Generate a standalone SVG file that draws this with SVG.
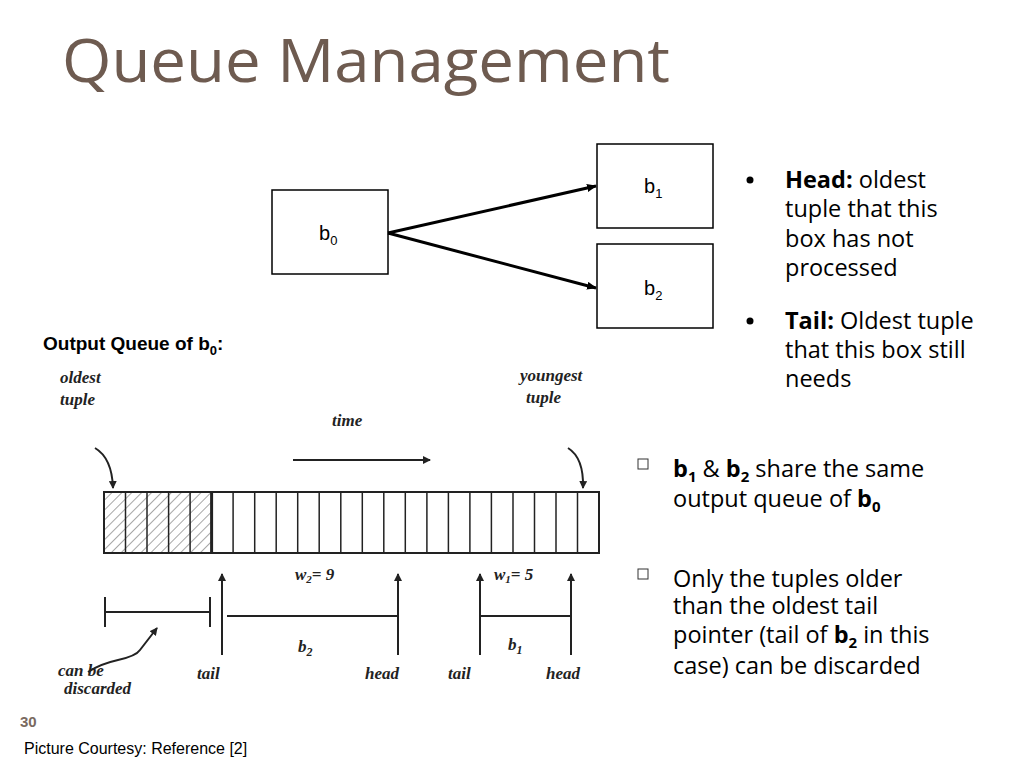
<svg xmlns="http://www.w3.org/2000/svg" width="1024" height="768" viewBox="0 0 1024 768">
<defs>
<marker id="ah" markerWidth="10" markerHeight="8" refX="9" refY="4" orient="auto" markerUnits="userSpaceOnUse"><path d="M0,0 L10,4 L0,8 Z" fill="#000"/></marker>
<marker id="sa" markerWidth="8" markerHeight="8" refX="7" refY="4" orient="auto" markerUnits="userSpaceOnUse"><path d="M0,0 L8,4 L0,8 Z" fill="#222"/></marker>
<pattern id="hatch" width="7" height="7" patternUnits="userSpaceOnUse" patternTransform="rotate(45)"><rect width="7" height="7" fill="#fff"/><line x1="0" y1="0" x2="0" y2="7" stroke="#888" stroke-width="1.5"/></pattern>
</defs>
<style>
.box{fill:#fff;stroke:#000;stroke-width:1.5}
.bl{font-family:"Liberation Sans",Arial,sans-serif;font-size:20px;fill:#000}
.tx{font-family:"Open Sans","Noto Sans",sans-serif;font-size:23.5px;fill:#000}
.it{font-family:"Liberation Serif",serif;font-style:italic;font-weight:bold;font-size:17px;fill:#222}
.ln{stroke:#222;stroke-width:2;fill:none}
</style>
<rect width="1024" height="768" fill="#fff"/>
<text x="62" y="82" font-family="Open Sans,Noto Sans,sans-serif" font-size="60" fill="#6e5b50" textLength="608" lengthAdjust="spacingAndGlyphs">Queue Management</text>
<g id="b0"><rect class="box" x="272" y="190" width="116" height="84"/><text class="bl" x="319" y="240">b<tspan font-size="13" dy="5">0</tspan></text></g>
<g id="b1"><rect class="box" x="597" y="144" width="116" height="84"/><text class="bl" x="644" y="193">b<tspan font-size="13" dy="5">1</tspan></text></g>
<g id="b2"><rect class="box" x="597" y="244" width="116" height="84"/><text class="bl" x="644" y="295">b<tspan font-size="13" dy="5">2</tspan></text></g>
<g id="connectors" stroke="#000" stroke-width="3">
<line x1="388" y1="233" x2="596" y2="186" marker-end="url(#ah)"/>
<line x1="388" y1="233" x2="596" y2="288" marker-end="url(#ah)"/>
</g>
<g id="bullets1" class="tx">
<circle cx="750" cy="180" r="3.5" fill="#000"/>
<text x="785" y="188"><tspan font-weight="bold">Head:</tspan>  oldest</text>
<text x="785" y="217">tuple that this</text>
<text x="785" y="247">box has not</text>
<text x="785" y="276">processed</text>
<circle cx="750" cy="321" r="3.5" fill="#000"/>
<text x="785" y="329"><tspan font-weight="bold">Tail:</tspan> Oldest tuple</text>
<text x="785" y="358">that this box still</text>
<text x="785" y="387">needs</text>
</g>
<g id="bullets2" class="tx">
<rect x="638" y="459" width="10" height="10" fill="none" stroke="#333" stroke-width="1"/>
<text x="673" y="477"><tspan font-weight="bold">b</tspan><tspan font-weight="bold" font-size="15" dy="5">1</tspan><tspan dy="-5"> &amp; </tspan><tspan font-weight="bold">b</tspan><tspan font-weight="bold" font-size="15" dy="5">2</tspan><tspan dy="-5"> share the same</tspan></text>
<text x="673" y="507">output queue of <tspan font-weight="bold">b</tspan><tspan font-weight="bold" font-size="15" dy="5">0</tspan></text>
<rect x="638" y="569" width="10" height="10" fill="none" stroke="#333" stroke-width="1"/>
<text x="673" y="587">Only the tuples older</text>
<text x="673" y="614">than the oldest tail</text>
<text x="673" y="643">pointer (tail of <tspan font-weight="bold">b</tspan><tspan font-weight="bold" font-size="15" dy="5">2</tspan><tspan dy="-5"> in this</tspan></text>
<text x="673" y="674">case) can be discarded</text>
</g>
<text x="43" y="350" font-family="Liberation Sans,Arial,sans-serif" font-weight="bold" font-size="19">Output Queue of b<tspan font-size="13" dy="5">0</tspan><tspan dy="-5">:</tspan></text>
<g id="queue">
<rect x="104" y="492" width="107.6" height="61" fill="url(#hatch)"/>
<rect x="104" y="492" width="495" height="61" fill="none" stroke="#222" stroke-width="2"/>
<g stroke="#222" stroke-width="1.5">
<line x1="125.5" y1="492" x2="125.5" y2="553"/><line x1="147" y1="492" x2="147" y2="553"/><line x1="168.6" y1="492" x2="168.6" y2="553"/><line x1="190.1" y1="492" x2="190.1" y2="553"/><line x1="211.6" y1="492" x2="211.6" y2="553" stroke-width="3"/><line x1="233.1" y1="492" x2="233.1" y2="553"/><line x1="254.7" y1="492" x2="254.7" y2="553"/><line x1="276.2" y1="492" x2="276.2" y2="553"/><line x1="297.7" y1="492" x2="297.7" y2="553"/><line x1="319.2" y1="492" x2="319.2" y2="553"/><line x1="340.8" y1="492" x2="340.8" y2="553"/><line x1="362.3" y1="492" x2="362.3" y2="553"/><line x1="383.8" y1="492" x2="383.8" y2="553"/><line x1="405.3" y1="492" x2="405.3" y2="553"/><line x1="426.9" y1="492" x2="426.9" y2="553"/><line x1="448.4" y1="492" x2="448.4" y2="553"/><line x1="469.9" y1="492" x2="469.9" y2="553"/><line x1="491.4" y1="492" x2="491.4" y2="553"/><line x1="513" y1="492" x2="513" y2="553"/><line x1="534.5" y1="492" x2="534.5" y2="553"/><line x1="556" y1="492" x2="556" y2="553"/><line x1="577.5" y1="492" x2="577.5" y2="553"/>
</g>
<path class="ln" d="M95,448 Q112,458 113,488" marker-end="url(#sa)"/>
<path class="ln" d="M568,448 Q584,458 583,488" marker-end="url(#sa)"/>
<line class="ln" x1="293" y1="460" x2="430" y2="460" marker-end="url(#sa)"/>
<line class="ln" x1="222" y1="655" x2="222" y2="574" marker-end="url(#sa)"/>
<line class="ln" x1="398" y1="655" x2="398" y2="574" marker-end="url(#sa)"/>
<line class="ln" x1="480" y1="655" x2="480" y2="574" marker-end="url(#sa)"/>
<line class="ln" x1="571" y1="655" x2="571" y2="574" marker-end="url(#sa)"/>
<line class="ln" x1="227" y1="616" x2="398" y2="616" stroke-width="1.5"/>
<line class="ln" x1="480" y1="616" x2="571" y2="616" stroke-width="1.5"/>
<path class="ln" d="M105,597 V627 M105,612 H210 M210,597 V627"/>
<path class="ln" d="M88,672 Q100,664 118,660 T140,650 L157,628" stroke-width="1.5" marker-end="url(#sa)"/>
<text class="it" x="60" y="383">oldest</text><text class="it" x="60" y="405">tuple</text>
<text class="it" x="520" y="381">youngest</text><text class="it" x="526" y="403">tuple</text>
<text class="it" x="332" y="426">time</text>
<text class="it" x="295" y="580">w<tspan font-size="11" dy="3">2</tspan><tspan dy="-3">= 9</tspan></text>
<text class="it" x="494" y="580">w<tspan font-size="11" dy="3">1</tspan><tspan dy="-3">= 5</tspan></text>
<text class="it" x="298" y="652" font-size="18">b<tspan font-size="12" dy="4">2</tspan></text>
<text class="it" x="508" y="650" font-size="18">b<tspan font-size="12" dy="4">1</tspan></text>
<text class="it" x="197" y="679" font-size="18">tail</text>
<text class="it" x="365" y="679" font-size="18">head</text>
<text class="it" x="448" y="679" font-size="18">tail</text>
<text class="it" x="546" y="679" font-size="18">head</text>
<text class="it" x="58" y="676" font-size="14">can be</text>
<text class="it" x="64" y="694" font-size="14">discarded</text>
</g>
<text x="20" y="727" font-family="Liberation Sans,Arial,sans-serif" font-weight="bold" font-size="15" fill="#7a6a60">30</text>
<text x="24" y="754" font-family="Liberation Sans,Arial,sans-serif" font-size="16">Picture Courtesy: Reference [2]</text>
</svg>
